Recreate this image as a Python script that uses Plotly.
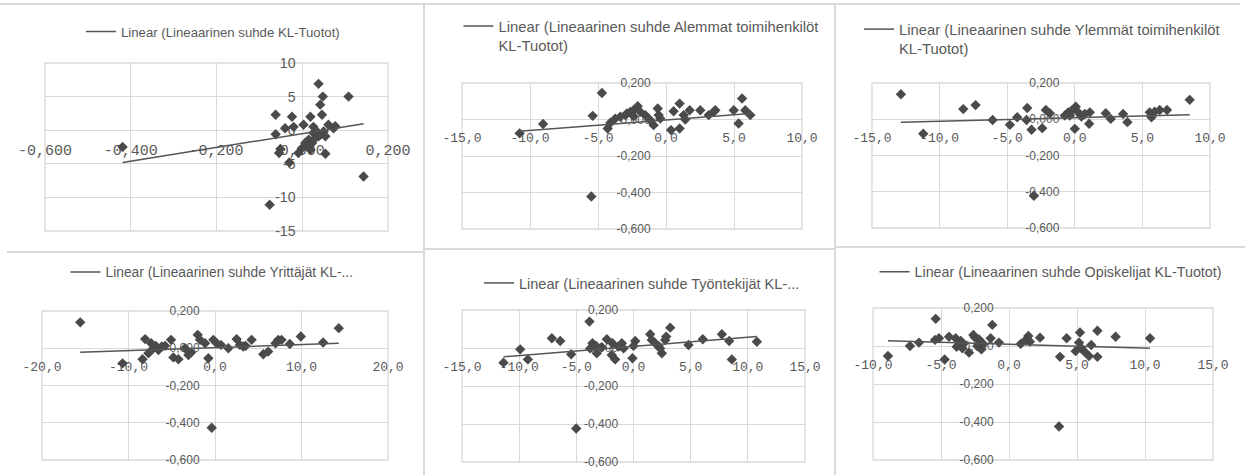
import plotly.graph_objects as go

W, H = 1245, 475

# ---------------- data ----------------
p1_x = [-0.419, -0.062, -0.062, -0.051, -0.054, -0.030, -0.076, -0.024, -0.040, -0.020,
        0.003, 0.019, 0.038, 0.048, 0.042, 0.046, 0.108, 0.143, 0.054, 0.061,
        0.073, 0.077, 0.026, 0.034, 0.042, 0.030, 0.015, 0.023, 0.011, 0.019,
        -0.001, -0.009, 0.007, 0.026, 0.038, 0.050, 0.054]
p1_y = [-2.5, 2.3, -0.6, -2.8, -3.4, -4.8, -11.1, 2.0, 0.3, 0.5,
        0.8, 2.0, 6.9, 5.0, 3.8, 2.3, 5.0, -6.9, -3.5, 0.8,
        0.3, 0.6, 0.5, -0.2, -0.7, -1.2, -1.4, -1.9, -2.4, -2.9,
        -2.7, -3.4, -1.9, -0.4, -0.9, -0.2, -0.9]
p1_trend_x = [-0.419, 0.143]
p1_trend_y = [-4.8, 0.95]

p2_x = [-10.76, -9.04, -5.39, -4.71, -5.49, -4.29, -4.09, -3.73, -3.36, -2.99,
        -2.62, -2.38, -2.08, -1.89, -1.52, -1.15, -0.91, -0.61, -0.54, -0.42,
        0.37, 0.56, 1.00, 1.00, 1.30, 1.42, 1.74, 2.52, 3.14, 3.50,
        3.63, 4.98, 5.59, 5.34, 5.83, 6.20, -2.38, -2.87]
p2_y = [-0.076, -0.025, 0.020, 0.145, -0.422, -0.049, -0.018, 0.005, 0.015, 0.024,
        0.042, 0.051, 0.073, 0.042, 0.024, -0.004, -0.031, 0.060, 0.024, 0.005,
        -0.058, 0.045, 0.087, -0.049, 0.024, 0.000, 0.051, 0.051, 0.024, 0.042,
        0.051, 0.051, 0.115, -0.022, 0.051, 0.024, 0.018, 0.033]
p2_trend_x = [-10.76, 6.20]
p2_trend_y = [-0.064, 0.033]

p3_x = [-12.86, -11.21, -8.25, -7.34, -6.08, -4.80, -4.26, -3.52, -3.57, -3.20,
        -2.41, -2.14, -1.85, -0.74, -0.49, -0.25, 0.07, 0.00, 0.25, 0.49,
        1.06, 1.11, 2.29, 2.66, 3.57, 3.89, 5.54, 5.67, 5.91, 6.28,
        6.82, 8.50, -3.03, -0.37, 0.74]
p3_y = [0.138, -0.080, 0.056, 0.078, -0.004, -0.031, 0.011, 0.062, -0.004, -0.058,
        -0.049, 0.051, 0.033, 0.020, 0.038, 0.047, 0.069, -0.053, 0.038, 0.015,
        -0.025, 0.038, 0.033, 0.002, 0.029, -0.016, 0.038, 0.011, 0.042, 0.051,
        0.051, 0.107, -0.422, 0.020, 0.029]
p3_trend_x = [-12.86, 8.50]
p3_trend_y = [-0.016, 0.025]

p4_x = [-15.58, -10.69, -8.38, -8.08, -7.69, -7.38, -7.12, -6.85, -6.54, -6.15,
        -5.77, -5.08, -4.81, -4.23, -3.46, -3.08, -2.77, -2.00, -1.73, -0.77,
        -0.38, -0.19, 0.19, 0.69, 1.54, 2.50, 2.88, 3.54, 4.23, 5.58,
        6.15, 7.00, 7.31, 7.69, 8.65, 9.92, 12.50, 14.31, -1.15, 3.27]
p4_y = [0.139, -0.081, -0.059, 0.049, -0.027, 0.027, 0.000, 0.013, -0.009, 0.009,
        0.013, 0.045, -0.049, -0.059, 0.000, -0.036, -0.023, 0.072, 0.045, -0.054,
        -0.427, 0.045, 0.027, 0.018, 0.000, 0.049, 0.018, 0.013, 0.045, -0.032,
        -0.018, 0.027, 0.045, 0.045, 0.023, 0.063, 0.031, 0.108, 0.027, 0.009]
p4_trend_x = [-15.58, 14.31]
p4_trend_y = [-0.022, 0.027]

p5_x = [-11.37, -9.91, -9.24, -7.14, -6.41, -5.45, -5.01, -3.85, -3.59, -3.79,
        -3.21, -2.77, -2.33, -1.90, -1.60, -1.84, -1.31, -1.02, -0.87, -0.09,
        0.15, 0.00, 1.46, 1.60, 1.90, 2.19, 2.48, 2.77, 2.86, 3.21,
        4.81, 6.06, 7.73, 8.37, 8.60, 10.79, 2.33, -3.27]
p5_y = [-0.077, -0.007, -0.060, 0.051, 0.037, -0.033, -0.424, 0.139, 0.025, -0.002,
        -0.028, 0.004, 0.046, -0.037, -0.060, 0.025, 0.007, 0.025, -0.002, -0.054,
        0.037, 0.011, 0.072, 0.042, 0.025, 0.011, -0.028, 0.042, 0.060, 0.107,
        0.016, 0.046, 0.072, 0.037, -0.060, 0.033, -0.002, 0.011]
p5_trend_x = [-11.37, 10.79]
p5_trend_y = [-0.046, 0.060]

p6_x = [-8.90, -7.28, -6.62, -5.39, -5.44, -5.15, -4.73, -4.41, -3.92, -3.85,
        -3.55, -3.36, -2.94, -2.62, -2.52, -2.21, -2.03, -1.89, -1.35, -1.23,
        -0.74, 0.86, 1.23, 1.42, 1.54, 2.28, 3.75, 4.24, 3.68, 4.90,
        5.15, 5.22, 5.32, 5.56, 5.88, 6.05, 6.50, 6.50, 7.84, 10.37,
        -2.33, -3.43]
p6_y = [-0.053, 0.000, 0.018, 0.143, 0.032, 0.041, -0.071, 0.049, 0.041, -0.004,
        0.027, 0.011, -0.035, 0.058, 0.046, 0.035, -0.018, 0.011, 0.041, 0.111,
        0.018, 0.011, 0.032, 0.053, 0.023, 0.044, -0.057, 0.041, -0.424, -0.027,
        0.018, 0.071, -0.012, -0.030, -0.053, 0.005, 0.080, -0.057, 0.049, 0.041,
        0.000, -0.012]
p6_trend_x = [-8.90, 10.37]
p6_trend_y = [0.028, -0.012]

legend_names = [
    "Linear (Lineaarinen suhde KL-Tuotot)",
    "Linear (Lineaarinen suhde Alemmat toimihenkilöt<br>KL-Tuotot)",
    "Linear (Lineaarinen suhde Ylemmät toimihenkilöt<br>KL-Tuotot)",
    "Linear (Lineaarinen suhde Yrittäjät KL-...",
    "Linear (Lineaarinen suhde Työntekijät KL-...",
    "Linear (Lineaarinen suhde Opiskelijat KL-Tuotot)",
]

p1_xticks = [-0.6, -0.4, -0.2, 0.0, 0.2]
p1_xtext = ["-0,600", "-0,400", "-0,200", "0,000", "0,200"]
p1_yticks = [10, 5, 0, -5, -10, -15]
p1_ytext = ["10", "5", "0", "-5", "-10", "-15"]

share_yticks = [0.2, 0.0, -0.2, -0.4, -0.6]
share_ytext = ["0,200", "0,000", "-0,200", "-0,400", "-0,600"]

x15_10_ticks = [-15, -10, -5, 0, 5, 10]
x15_10_text = ["-15,0", "-10,0", "-5,0", "0,0", "5,0", "10,0"]
x20_ticks = [-20, -10, 0, 10, 20]
x20_text = ["-20,0", "-10,0", "0,0", "10,0", "20,0"]
x15_15_ticks = [-15, -10, -5, 0, 5, 10, 15]
x15_15_text = ["-15,0", "-10,0", "-5,0", "0,0", "5,0", "10,0", "15,0"]
x10_15_ticks = [-10, -5, 0, 5, 10, 15]
x10_15_text = ["-10,0", "-5,0", "0,0", "5,0", "10,0", "15,0"]

# ---------------- styling / layout ----------------
MARK = "#4a4a4a"
TREND = "#555555"
GRID = "#d9d9d9"
TXT = "#595959"

panels = [
    dict(px=(45, 388), py=(63, 231), xr=(-0.6, 0.2), yr=(-15, 10),
         xt=(p1_xticks, p1_xtext), yt=(p1_yticks, p1_ytext),
         data=(p1_x, p1_y, p1_trend_x, p1_trend_y), xfs=15, yfs=14, xlen=6, ylen=4,
         leg=(213, 32), lfs=13.2),
    dict(px=(462, 802), py=(83, 229), xr=(-15, 10), yr=(-0.6, 0.2),
         xt=(x15_10_ticks, x15_10_text), yt=(share_yticks, share_ytext),
         data=(p2_x, p2_y, p2_trend_x, p2_trend_y), xfs=13, yfs=12, xlen=6, ylen=13,
         leg=(641, 36), lfs=14.8),
    dict(px=(872, 1210), py=(83, 228), xr=(-15, 10), yr=(-0.6, 0.2),
         xt=(x15_10_ticks, x15_10_text), yt=(share_yticks, share_ytext),
         data=(p3_x, p3_y, p3_trend_x, p3_trend_y), xfs=13, yfs=12, xlen=6, ylen=13,
         leg=(1042, 39), lfs=14.8),
    dict(px=(42, 388), py=(311, 460), xr=(-20, 20), yr=(-0.6, 0.2),
         xt=(x20_ticks, x20_text), yt=(share_yticks, share_ytext),
         data=(p4_x, p4_y, p4_trend_x, p4_trend_y), xfs=13, yfs=12, xlen=6, ylen=13,
         leg=(212, 272), lfs=13.8),
    dict(px=(462, 805), py=(310, 462), xr=(-15, 15), yr=(-0.6, 0.2),
         xt=(x15_15_ticks, x15_15_text), yt=(share_yticks, share_ytext),
         data=(p5_x, p5_y, p5_trend_x, p5_trend_y), xfs=13, yfs=12, xlen=6, ylen=13,
         leg=(642, 283), lfs=14.5),
    dict(px=(873, 1213), py=(308, 460), xr=(-10, 15), yr=(-0.6, 0.2),
         xt=(x10_15_ticks, x10_15_text), yt=(share_yticks, share_ytext),
         data=(p6_x, p6_y, p6_trend_x, p6_trend_y), xfs=13, yfs=12, xlen=6, ylen=13,
         leg=(1051, 272), lfs=14.3),
]

fig = go.Figure()
layout = dict(template="none", width=W, height=H,
              margin=dict(l=0, r=0, t=0, b=0, pad=0, autoexpand=False),
              paper_bgcolor="white", plot_bgcolor="white", showlegend=True,
              font=dict(family="Liberation Sans", color=TXT))
shapes = []

for i, p in enumerate(panels, start=1):
    sfx = "" if i == 1 else str(i)
    xs, ys, tx, ty = p["data"]
    xa, ya = "x" + sfx, "y" + sfx
    lg = "legend" + sfx
    fig.add_trace(go.Scatter(x=xs, y=ys, mode="markers", xaxis=xa, yaxis=ya,
                             marker=dict(symbol="diamond", size=8, color=MARK,
                                         line=dict(width=0)),
                             showlegend=False, hoverinfo="x+y"))
    fig.add_trace(go.Scatter(x=tx, y=ty, mode="lines", xaxis=xa, yaxis=ya,
                             line=dict(color=TREND, width=1.5),
                             name=legend_names[i - 1], legend=lg, showlegend=True))
    xd = [p["px"][0] / W, p["px"][1] / W]
    yd = [1 - p["py"][1] / H, 1 - p["py"][0] / H]
    xmin, xmax = p["xr"]
    ymin, ymax = p["yr"]
    xpos = xd[0] + (0 - xmin) / (xmax - xmin) * (xd[1] - xd[0])
    ypos = yd[0] + (0 - ymin) / (ymax - ymin) * (yd[1] - yd[0])
    layout["xaxis" + sfx] = dict(
        domain=xd, range=[xmin, xmax], anchor="free", position=ypos,
        automargin=False,
        tickmode="array", tickvals=p["xt"][0], ticktext=p["xt"][1],
        showgrid=True, gridcolor=GRID, gridwidth=1.3, zeroline=False, showline=False,
        ticks="outside", ticklen=p["xlen"], tickcolor="rgba(0,0,0,0)",
        tickfont=dict(family="Liberation Mono", size=p["xfs"], color=TXT),
        layer="below traces", fixedrange=True)
    layout["yaxis" + sfx] = dict(
        domain=yd, range=[ymin, ymax], anchor="free", position=xpos,
        automargin=False,
        tickmode="array", tickvals=p["yt"][0], ticktext=p["yt"][1],
        showgrid=True, gridcolor=GRID, gridwidth=1.3, zeroline=False, showline=False,
        ticks="outside", ticklen=p["ylen"], tickcolor="rgba(0,0,0,0)",
        tickfont=dict(family="Liberation Sans", size=p["yfs"], color=TXT),
        layer="below traces", fixedrange=True)
    layout[lg] = dict(x=p["leg"][0] / W, y=1 - p["leg"][1] / H, xanchor="center",
                      yanchor="middle", bgcolor="rgba(0,0,0,0)", borderwidth=0,
                      valign="top",
                      font=dict(family="Liberation Sans", size=p["lfs"], color=TXT),
                      itemwidth=30)
    shapes.append(dict(type="rect", xref=xa + " domain", yref=ya + " domain",
                       x0=0, x1=1, y0=0, y1=1, line=dict(color=GRID, width=1.3),
                       layer="below"))

# separators between the pasted charts
def pline(x0, y0, x1, y1, w=2):
    return dict(type="line", xref="paper", yref="paper",
                x0=x0 / W, x1=x1 / W, y0=1 - y0 / H, y1=1 - y1 / H,
                line=dict(color=GRID, width=w), layer="below")

shapes += [
    pline(0, 4, 1240, 4),
    pline(424, 4, 424, 475),
    pline(835, 4, 835, 475),
    pline(7, 252, 424, 252),
    pline(424, 249, 835, 249),
    pline(835, 247, 1245, 247),
]
layout["shapes"] = shapes
fig.update_layout(**layout)
fig.write_html("out.html", config={"displayModeBar": False},
               post_script="document.body.style.margin='0';")
